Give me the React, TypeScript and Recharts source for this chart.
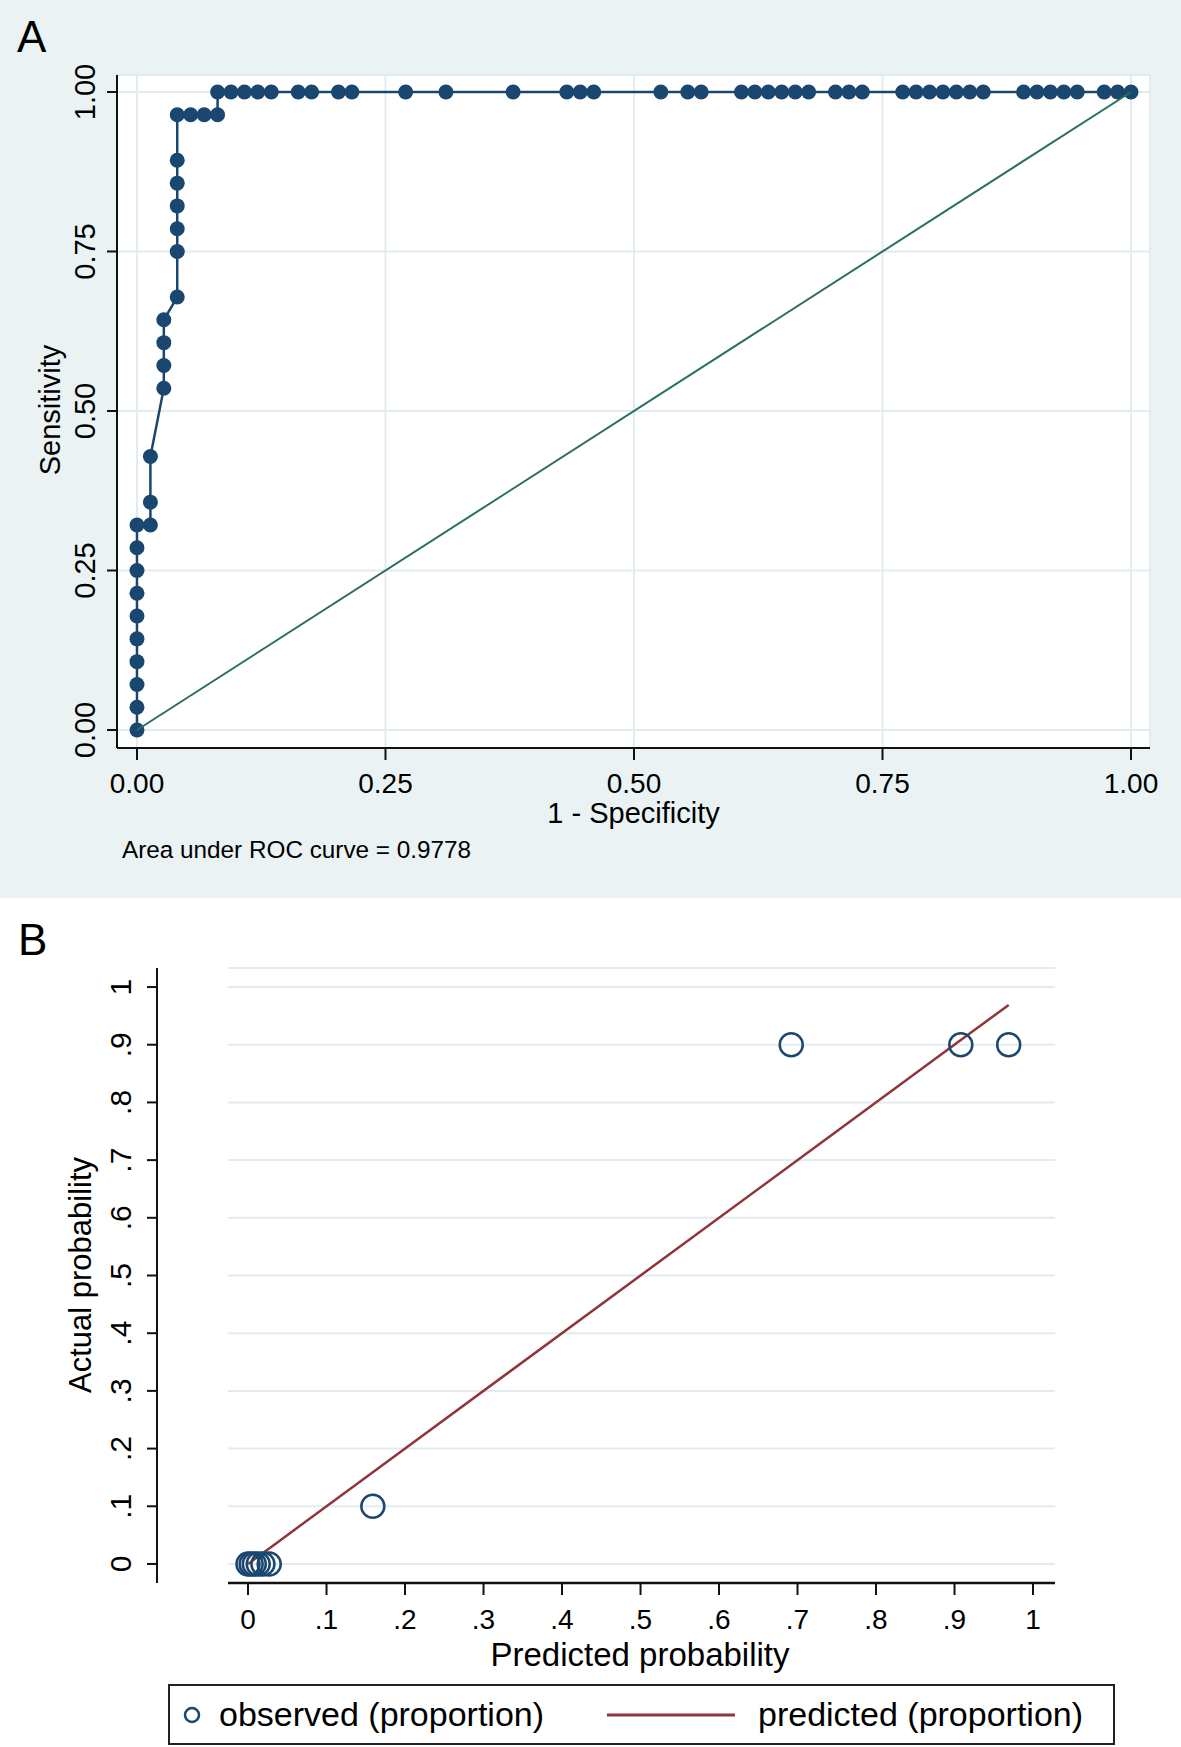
import {
  CartesianGrid,
  ComposedChart,
  Line,
  Scatter,
  ScatterChart,
  XAxis,
  YAxis,
} from "recharts";

const FONT = '"Liberation Sans", Arial, Helvetica, sans-serif';
const NAVY = "#1a476f";
const MAROON = "#90353b";
const TEAL = "#2a6f63";
const BLUISH = "#eaf2f3";
const GRID = "#e2ecf0";
const AXIS = "#111";

// Panel A: ROC curve points in drawing order
const rocFpr = [
  0, 0, 0, 0, 0, 0, 0, 0, 0, 0,
  0.0135, 0.0135, 0.0135,
  0.027, 0.027, 0.027, 0.027,
  0.0405, 0.0405, 0.0405, 0.0405, 0.0405, 0.0405, 0.0405,
  0.054, 0.0676, 0.0811,
  0.0811, 0.0946, 0.1081, 0.1216, 0.1351,
  0.1622, 0.1757,
  0.2027, 0.2162,
  0.2703, 0.3108, 0.3784,
  0.4324, 0.4459, 0.4595,
  0.527, 0.5541, 0.5676,
  0.6081, 0.6216, 0.6351, 0.6486, 0.6622, 0.6757,
  0.7027, 0.7162, 0.7297,
  0.7703, 0.7838, 0.7973, 0.8108, 0.8243, 0.8378, 0.8514,
  0.8919, 0.9054, 0.9189, 0.9324, 0.9459,
  0.973, 0.9865, 1,
];
const rocSens = [
  0, 0.0357, 0.0714, 0.1071, 0.1429, 0.1786, 0.2143, 0.25, 0.2857, 0.3214,
  0.3214, 0.3571, 0.4286,
  0.5357, 0.5714, 0.6071, 0.6429,
  0.6786, 0.75, 0.7857, 0.8214, 0.8571, 0.8929, 0.9643,
  0.9643, 0.9643, 0.9643,
  1, 1, 1, 1, 1,
  1, 1,
  1, 1,
  1, 1, 1,
  1, 1, 1,
  1, 1, 1,
  1, 1, 1, 1, 1, 1,
  1, 1, 1,
  1, 1, 1, 1, 1, 1, 1,
  1, 1, 1, 1, 1,
  1, 1, 1,
];
const refFpr = [0, 1];
const refSens = [0, 1];
const rocTicks = [0, 0.25, 0.5, 0.75, 1];
const rocTickLabels = ["0.00", "0.25", "0.50", "0.75", "1.00"];
const aucText = "Area under ROC curve = 0.9778";

// Panel B: calibration groups
const predProb = [0, 0.004, 0.008, 0.013, 0.019, 0.027, 0.159, 0.692, 0.908, 0.969];
const obsProp = [0, 0, 0, 0, 0, 0, 0.1, 0.9, 0.9, 0.9];
const calibTicks = [0, 0.1, 0.2, 0.3, 0.4, 0.5, 0.6, 0.7, 0.8, 0.9, 1];
const calibTickLabels = ["0", ".1", ".2", ".3", ".4", ".5", ".6", ".7", ".8", ".9", "1"];

const rocData = rocFpr.map((x, i) => ({ x, y: rocSens[i] }));
const refData = refFpr.map((x, i) => ({ x, y: refSens[i] }));
const calibData = predProb.map((pred, i) => ({ pred, obs: obsProp[i] }));

function labelFor(ticks: number[], labels: string[], v: number) {
  const i = ticks.findIndex((t) => Math.abs(t - v) < 1e-6);
  return i >= 0 ? labels[i] : "";
}

function bottomTick(ticks: number[], labels: string[], size: number, dy: number) {
  return (props: any) => (
    <text
      x={props.x}
      y={props.y + dy}
      textAnchor="middle"
      fontSize={size}
      fontFamily={FONT}
      fill="#000"
    >
      {labelFor(ticks, labels, props.payload.value)}
    </text>
  );
}

function leftTick(ticks: number[], labels: string[], size: number, dx: number) {
  return (props: any) => (
    <text
      transform={`translate(${props.x + dx},${props.y}) rotate(-90)`}
      textAnchor="middle"
      fontSize={size}
      fontFamily={FONT}
      fill="#000"
    >
      {labelFor(ticks, labels, props.payload.value)}
    </text>
  );
}

export default function App() {
  return (
    <div
      style={{
        position: "absolute",
        left: 0,
        top: 0,
        width: 1181,
        height: 1747,
        background: "#fff",
        overflow: "hidden",
      }}
    >
      <div style={{ position: "absolute", left: 0, top: 0, width: 1181, height: 898, background: BLUISH }}>
        <ScatterChart width={1181} height={898} margin={{ top: 75, right: 31, bottom: 110, left: 47 }}>
          <CartesianGrid stroke={GRID} strokeWidth={2} fill="#ffffff" fillOpacity={1} />
          <XAxis
            type="number"
            dataKey="x"
            domain={[-0.0201, 1.0191]}
            ticks={rocTicks}
            interval={0}
            allowDataOverflow
            height={40}
            tickSize={12}
            tickMargin={0}
            axisLine={{ stroke: AXIS, strokeWidth: 2 }}
            tickLine={{ stroke: AXIS, strokeWidth: 2 }}
            tick={bottomTick(rocTicks, rocTickLabels, 28, 33)}
          />
          <YAxis
            type="number"
            dataKey="y"
            domain={[-0.0282, 1.0266]}
            ticks={rocTicks}
            interval={0}
            allowDataOverflow
            width={70}
            tickSize={10}
            tickMargin={0}
            axisLine={{ stroke: AXIS, strokeWidth: 2 }}
            tickLine={{ stroke: AXIS, strokeWidth: 2 }}
            tick={leftTick(rocTicks, rocTickLabels, 29, -12)}
          />
          <Scatter
            name="ROC"
            data={rocData}
            fill={NAVY}
            line={{ stroke: NAVY, strokeWidth: 2.5 }}
            shape={(p: any) => <circle cx={p.cx} cy={p.cy} r={7.5} fill={NAVY} />}
            isAnimationActive={false}
          />
          <Scatter
            name="reference"
            data={refData}
            fill={TEAL}
            line={{ stroke: TEAL, strokeWidth: 2 }}
            shape={() => <g />}
            isAnimationActive={false}
          />
        </ScatterChart>
      </div>

      <div style={{ position: "absolute", left: 0, top: 898, width: 1181, height: 849 }}>
        <ComposedChart
          width={1181}
          height={849}
          data={calibData}
          margin={{ top: 70, right: 126, bottom: 124, left: 57 }}
        >
          <CartesianGrid yAxisId="b" vertical={false} stroke={GRID} strokeWidth={2} />
          <XAxis
            type="number"
            dataKey="pred"
            domain={[-0.0255, 1.028]}
            ticks={calibTicks}
            interval={0}
            allowDataOverflow
            height={40}
            tickSize={12}
            tickMargin={0}
            axisLine={{ stroke: AXIS, strokeWidth: 2.5 }}
            tickLine={{ stroke: AXIS, strokeWidth: 2 }}
            tick={bottomTick(calibTicks, calibTickLabels, 28, 34)}
          />
          <YAxis
            yAxisId="b"
            type="number"
            domain={[-0.033, 1.033]}
            ticks={calibTicks}
            interval={0}
            allowDataOverflow
            width={100}
            tickSize={10}
            tickMargin={0}
            axisLine={{ stroke: AXIS, strokeWidth: 2 }}
            tickLine={{ stroke: AXIS, strokeWidth: 2 }}
            tick={leftTick(calibTicks, calibTickLabels, 30, -16)}
          />
          {/* empty axis: keeps the y-axis line apart from the plot area */}
          <YAxis
            yAxisId="a"
            type="number"
            domain={[0, 1]}
            width={71}
            axisLine={false}
            tickLine={false}
            tick={false}
          />
          <Scatter
            yAxisId="b"
            name="observed (proportion)"
            dataKey="obs"
            fill={NAVY}
            shape={(p: any) => (
              <circle cx={p.cx} cy={p.cy} r={11.5} fill="none" stroke={NAVY} strokeWidth={2.5} />
            )}
            isAnimationActive={false}
          />
          <Line
            yAxisId="b"
            name="predicted (proportion)"
            type="linear"
            dataKey="pred"
            stroke={MAROON}
            strokeWidth={2.5}
            dot={false}
            activeDot={false}
            isAnimationActive={false}
          />
        </ComposedChart>
      </div>

      <svg
        width={1181}
        height={1747}
        style={{ position: "absolute", left: 0, top: 0, pointerEvents: "none" }}
        fontFamily={FONT}
        fill="#000"
      >
        <text x={17} y={52} fontSize={44}>A</text>
        <text x={633.5} y={823} fontSize={29} textAnchor="middle">1 - Specificity</text>
        <text x={122} y={858} fontSize={24.3}>{aucText}</text>
        <text transform="translate(60,410) rotate(-90)" fontSize={29} textAnchor="middle">
          Sensitivity
        </text>

        <text x={18} y={955} fontSize={44}>B</text>
        <text x={640} y={1666} fontSize={33} textAnchor="middle">Predicted probability</text>
        <text transform="translate(91,1275) rotate(-90)" fontSize={31} textAnchor="middle">
          Actual probability
        </text>

        <rect x={169} y={1685} width={945} height={59} fill="#fff" stroke="#222" strokeWidth={2} />
        <circle cx={192} cy={1715} r={7} fill="none" stroke={NAVY} strokeWidth={2.5} />
        <text x={219} y={1726} fontSize={34}>observed (proportion)</text>
        <line x1={607} y1={1715} x2={735} y2={1715} stroke={MAROON} strokeWidth={3} />
        <text x={758} y={1726} fontSize={34}>predicted (proportion)</text>
      </svg>
    </div>
  );
}
